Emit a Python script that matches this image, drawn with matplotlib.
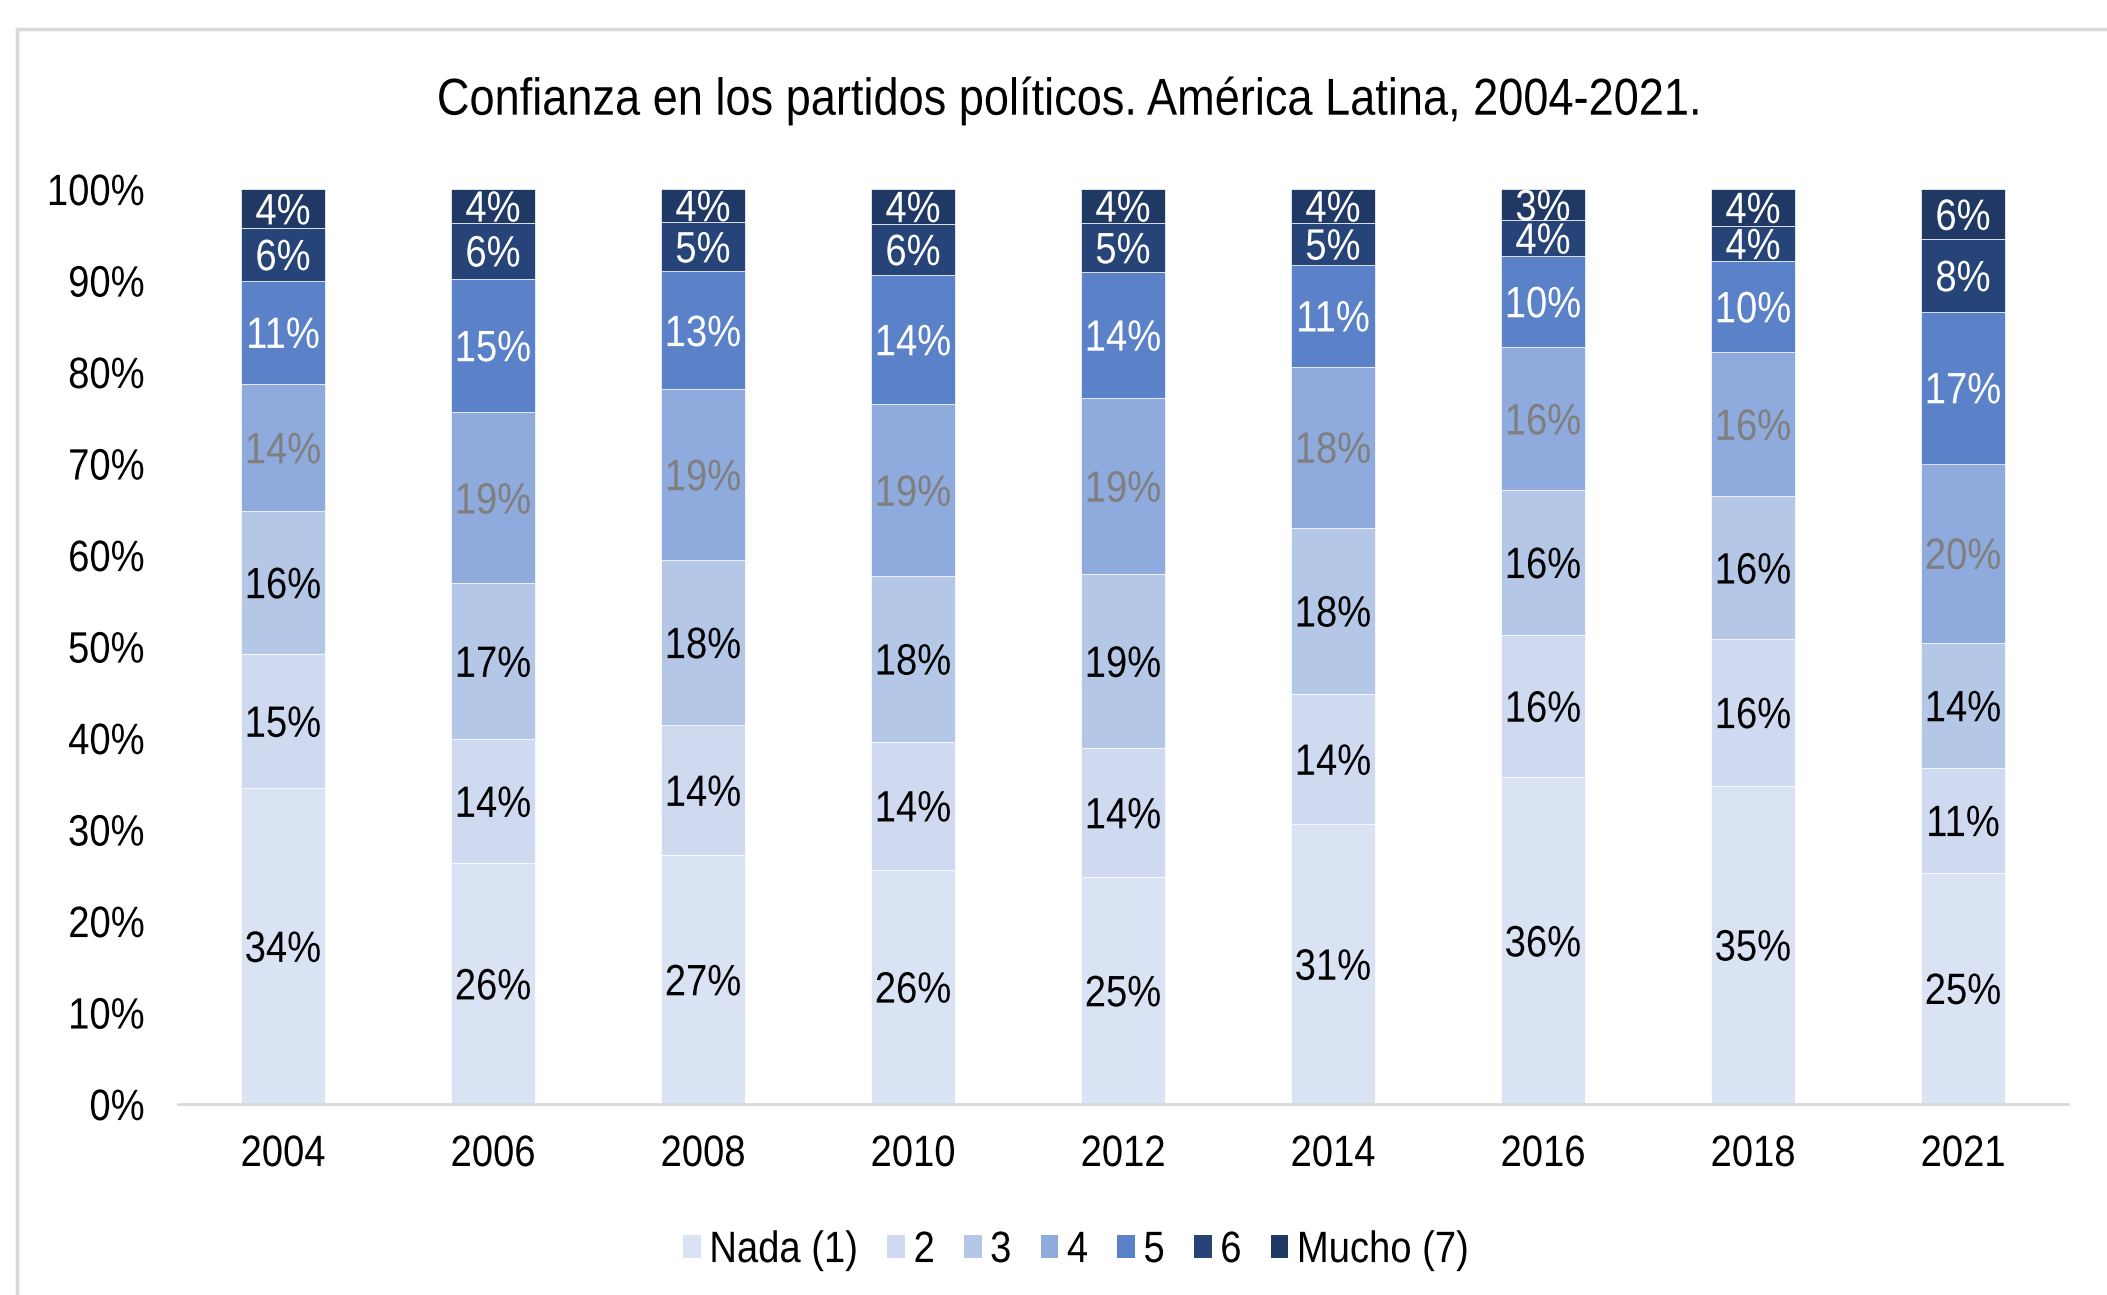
import matplotlib
matplotlib.use("Agg")
import matplotlib.pyplot as plt
from matplotlib.patches import Rectangle
from matplotlib.patheffects import AbstractPathEffect
from matplotlib.transforms import Affine2D, ScaledTranslation
import numpy as np

plt.rcParams['font.family'] = ['Liberation Sans', 'DejaVu Sans']

years = ["2004", "2006", "2008", "2010", "2012", "2014", "2016", "2018", "2021"]
series_names = ["Nada (1)", "2", "3", "4", "5", "6", "Mucho (7)"]

nada  = [34.5, 26.3, 27.2, 25.6, 24.8, 30.6, 35.7, 34.8, 25.3]
s2    = [14.7, 13.6, 14.2, 14.0, 14.1, 14.2, 15.6, 16.0, 11.4]
s3    = [15.6, 17.0, 18.1, 18.1, 19.0, 18.2, 15.8, 15.6, 13.7]
s4    = [13.9, 18.7, 18.6, 18.8, 19.3, 17.6, 15.6, 15.8, 19.6]
s5    = [11.3, 14.6, 12.9, 14.1, 13.7, 11.1, 10.0,  9.9, 16.6]
s6    = [ 5.7,  6.1,  5.4,  5.6,  5.4,  4.6,  3.9,  3.9,  7.9]
mucho = [ 4.3,  3.7,  3.6,  3.8,  3.7,  3.7,  3.4,  4.0,  5.5]

series = [nada, s2, s3, s4, s5, s6, mucho]
colors = ["#dae3f3", "#cfdaf0", "#b4c7e7", "#8faadc", "#5b82c9", "#264478", "#1f3864"]
label_colors = ["#000000", "#000000", "#000000", "#7f7f7f", "#ffffff", "#ffffff", "#ffffff"]


class VStretch(AbstractPathEffect):
    """Stretch glyphs vertically about their cap-height centre."""
    def __init__(self, sy=1.15, c=36.0):
        super().__init__()
        self.sy = sy
        self.c = c

    def draw_path(self, renderer, gc, tpath, affine, rgbFace=None):
        a = Affine2D().translate(0, -self.c).scale(1, self.sy).translate(0, self.c) + affine
        renderer.draw_path(gc, tpath, a, rgbFace)


PE = [VStretch()]

W, H = 2107, 1295
fig = plt.figure(figsize=(W / 100, H / 100), dpi=100)

# outer frame
fig.patches.append(Rectangle((17 / W, -0.05), 1.2, 1 - 29 / H + 0.05,
                             transform=fig.transFigure, fill=False,
                             edgecolor="#d9d9d9", linewidth=2.5))

ax = fig.add_axes([178 / W, 1 - 1104 / H, (2068 - 178) / W, (1104 - 189) / H])

x = np.arange(len(years))
data = np.array(series) / 100.0
bottom = np.zeros(len(years))
fs = 27.5
lbl_tr = ax.transData + ScaledTranslation(0, -0.358 * fs / 72, fig.dpi_scale_trans)
for i, name in enumerate(series_names):
    vals = data[i]
    ax.bar(x, vals, width=0.4, bottom=bottom, color=colors[i], label=name,
           edgecolor="white", linewidth=0.5)
    for j in range(len(years)):
        ax.text(x[j], bottom[j] + vals[j] / 2, "%.0f%%" % (vals[j] * 100),
                ha="center", va="baseline", fontsize=fs, color=label_colors[i],
                transform=lbl_tr, path_effects=PE)
    bottom += vals

ax.set_xlim(-0.5, len(years) - 0.5)
ax.set_ylim(0, 1)
ax.set_yticks(np.arange(0, 1.01, 0.1))
ax.set_yticklabels(["%d%%" % v for v in range(0, 101, 10)])
ax.set_xticks(x)
ax.set_xticklabels(years)
ax.tick_params(axis="both", length=0, labelsize=fs, colors="black")
ax.tick_params(axis="y", pad=24)
ax.tick_params(axis="x", pad=23)
for t in ax.get_xticklabels() + ax.get_yticklabels():
    t.set_path_effects(PE)
for s in ["top", "right", "left"]:
    ax.spines[s].set_visible(False)
ax.spines["bottom"].set_color("#d9d9d9")
ax.spines["bottom"].set_linewidth(2)

fig.text(1068 / W, 1 - 100 / H, "Confianza en los partidos políticos. América Latina, 2004-2021.",
         ha="center", va="center", fontsize=32.5, color="black", path_effects=PE)

leg = fig.legend(loc="center", bbox_to_anchor=(1076 / W, 1 - 1250 / H), ncol=7,
                 frameon=False, fontsize=fs, handlelength=0.47, handleheight=0.58,
                 handletextpad=0.22, columnspacing=0.76)
for h in leg.legend_handles:
    h.set_edgecolor("none")
for t in leg.get_texts():
    t.set_path_effects(PE)

fig.savefig("out.png", dpi=100)
